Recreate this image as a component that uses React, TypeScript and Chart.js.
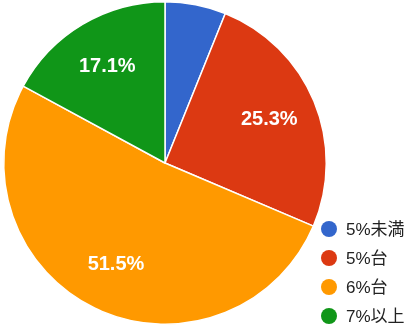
import React, { useEffect, useRef } from "react";
import { Chart, registerables } from "chart.js";

Chart.register(...registerables);

const categories = ["5%未満", "5%台", "6%台", "7%以上"];
const values = [6.1, 25.3, 51.5, 17.1];
const colors = ["#3366CC", "#DC3912", "#FF9900", "#109618"];

const FONT = '"Liberation Sans", Arial, "Noto Sans CJK JP", sans-serif';

const sliceLabels = {
  id: "sliceLabels",
  afterDatasetsDraw(chart: any) {
    const ctx = chart.ctx;
    const meta = chart.getDatasetMeta(0);
    const total = values.reduce((a, b) => a + b, 0);
    ctx.save();
    ctx.font = `bold 20px ${FONT}`;
    ctx.fillStyle = "#ffffff";
    ctx.textAlign = "center";
    ctx.textBaseline = "middle";
    meta.data.forEach((arc: any, i: number) => {
      const frac = values[i] / total;
      if (frac < 0.1) return;
      const p = arc.getProps(["x", "y", "startAngle", "endAngle", "outerRadius"], true);
      const mid = (p.startAngle + p.endAngle) / 2;
      const r = p.outerRadius * 0.7;
      ctx.fillText(values[i].toFixed(1) + "%", p.x + Math.cos(mid) * r, p.y + Math.sin(mid) * r);
    });
    ctx.restore();
  },
};

const sideLegend = {
  id: "sideLegend",
  afterDraw(chart: any) {
    const ctx = chart.ctx;
    ctx.save();
    ctx.font = `17px ${FONT}`;
    ctx.textBaseline = "middle";
    ctx.textAlign = "left";
    categories.forEach((c, i) => {
      const y = 229 + i * 29;
      ctx.beginPath();
      ctx.arc(329, y, 8, 0, Math.PI * 2);
      ctx.fillStyle = colors[i];
      ctx.fill();
      ctx.fillStyle = "#222222";
      ctx.fillText(c, 346, y + 1);
    });
    ctx.restore();
  },
};

export default function App() {
  const ref = useRef<HTMLCanvasElement>(null);
  useEffect(() => {
    if (!ref.current) return;
    const chart = new Chart(ref.current, {
      type: "pie",
      data: {
        labels: categories,
        datasets: [
          {
            data: values,
            backgroundColor: colors,
            borderColor: "#ffffff",
            borderWidth: 1.5,
          },
        ],
      },
      options: {
        responsive: false,
        animation: false,
        layout: { padding: { left: 3, right: 85, top: 1, bottom: 1 } },
        plugins: {
          legend: { display: false },
          tooltip: { enabled: false },
        },
      },
      plugins: [sliceLabels, sideLegend],
    });
    return () => chart.destroy();
  }, []);
  return (
    <div style={{ position: "absolute", left: 0, top: 0, width: 412, height: 326, background: "#fff" }}>
      <canvas ref={ref} width={412} height={326} />
    </div>
  );
}
